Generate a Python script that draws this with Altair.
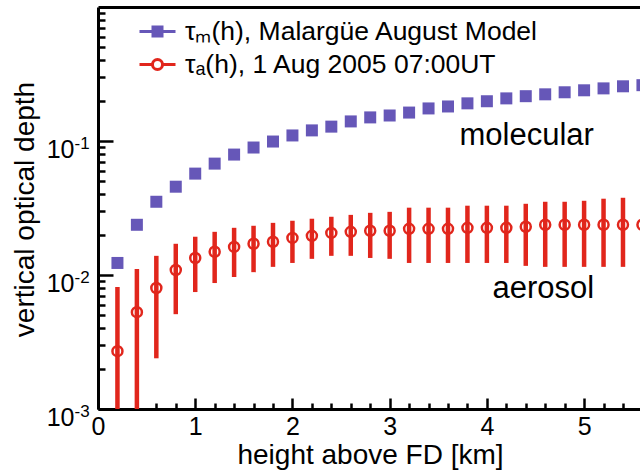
import altair as alt
import pandas as pd

# ---- data ----
heights = [0.2, 0.4, 0.6, 0.8, 1.0, 1.2, 1.4, 1.6, 1.8, 2.0, 2.2, 2.4, 2.6, 2.8,
           3.0, 3.2, 3.4, 3.6, 3.8, 4.0, 4.2, 4.4, 4.6, 4.8, 5.0, 5.2, 5.4, 5.6]
tau_m = [0.0123, 0.0237, 0.0352, 0.0456, 0.0571, 0.0678, 0.0792, 0.0894, 0.0991, 0.110,
         0.120, 0.128, 0.140, 0.150, 0.155, 0.163, 0.175, 0.181, 0.191, 0.198,
         0.208, 0.216, 0.223, 0.231, 0.239, 0.247, 0.256, 0.261]
tau_a = [0.00270, 0.00528, 0.0080, 0.0109, 0.0134, 0.0149, 0.0162, 0.0171, 0.0177, 0.0189,
         0.0196, 0.0206, 0.0210, 0.0214, 0.0214, 0.0221, 0.0221, 0.0221, 0.0225, 0.0225,
         0.0225, 0.0229, 0.0237, 0.0237, 0.0237, 0.0237, 0.0237, 0.0237]
tau_a_hi = [0.00813, 0.0111, 0.0139, 0.0171, 0.0193, 0.0210, 0.0225, 0.0233, 0.0245, 0.0254,
            0.0263, 0.0272, 0.0281, 0.0291, 0.0296, 0.0318, 0.0318, 0.0318, 0.0329, 0.0329,
            0.0329, 0.0340, 0.0352, 0.0352, 0.0358, 0.0371, 0.0377, 0.0384]
tau_a_lo = [0.0005, 0.0005, 0.00239, 0.0051, 0.00746, 0.00871, 0.00966, 0.0105, 0.0115, 0.0123,
            0.0132, 0.0139, 0.0139, 0.0134, 0.0132, 0.0123, 0.0123, 0.0123, 0.0123, 0.0123,
            0.0123, 0.0117, 0.0115, 0.0115, 0.0115, 0.0115, 0.0115, 0.0115]

series_names = ["τₘ(h), Malargüe August Model", "τₐ(h), 1 Aug 2005 07:00UT"]
annotation_labels = ["molecular", "aerosol"]
annotation_x = [4.41, 4.58]
annotation_y = [0.0941, 0.00673]

x_major = [0, 1, 2, 3, 4, 5]
x_minor = [0.2, 0.4, 0.6, 0.8, 1.2, 1.4, 1.6, 1.8, 2.2, 2.4, 2.6, 2.8, 3.2, 3.4, 3.6, 3.8,
           4.2, 4.4, 4.6, 4.8, 5.2, 5.4]
y_decades = [0.001, 0.01, 0.1]
y_minor = [0.002, 0.003, 0.004, 0.005, 0.006, 0.007, 0.008, 0.009,
           0.02, 0.03, 0.04, 0.05, 0.06, 0.07, 0.08, 0.09,
           0.2, 0.3, 0.4, 0.5, 0.6, 0.7, 0.8, 0.9]

# ---- styling ----
FONT = "Liberation Sans"
PURPLE = "#6657b8"
RED = "#e1261c"
W, H = 542, 402

df = pd.DataFrame({"h": heights, "tm": tau_m, "ta": tau_a, "lo": tau_a_lo, "hi": tau_a_hi})
ann = pd.DataFrame({"label": annotation_labels, "x": annotation_x, "y": annotation_y})
leg = pd.DataFrame({"series": series_names})

xscale = alt.Scale(domain=[0, 5.575], nice=False, zero=False)
yscale = alt.Scale(type="log", domain=[0.001, 1], nice=False)

# x axes
ax_x_labels = alt.Axis(orient="bottom", values=x_major, ticks=False, tickSize=0, grid=False,
                       labelFont=FONT, labelFontSize=25, labelColor="black", labelPadding=5,
                       labelFlush=False, labelOverlap=False,
                       domainColor="black", domainWidth=3,
                       title="height above FD [km]", titleFont=FONT, titleFontSize=28,
                       titleFontWeight="normal", titleColor="black", titleX=272, titleY=54,
                       titleBaseline="alphabetic", titleAlign="center")
ax_x_major = alt.Axis(orient="top", offset=-H, values=x_major, labels=False, domain=False,
                      grid=False, tickSize=11, tickWidth=2.5, tickColor="black", title=None)
ax_x_minor = alt.Axis(orient="top", offset=-H, values=x_minor, labels=False, domain=False,
                      grid=False, tickSize=6, tickWidth=2.5, tickColor="black", title=None)
ax_x_top = alt.Axis(orient="top", labels=False, ticks=False, grid=False,
                    domainColor="black", domainWidth=3, title=None)

# y axes
ax_y_labels = alt.Axis(orient="left", values=y_decades, ticks=False, tickSize=0, grid=False,
                       labelExpr="'10'", labelFont=FONT, labelFontSize=25, labelColor="black",
                       labelPadding=24, labelOffset=8, labelFlush=False, labelOverlap=False,
                       domainColor="black", domainWidth=3,
                       title="vertical optical depth", titleFont=FONT, titleFontSize=28,
                       titleFontWeight="normal", titleColor="black", titleX=-65, titleY=202,
                       titleBaseline="alphabetic", titleAlign="center", titleAngle=270)
ax_y_exp = alt.Axis(orient="left", values=y_decades, ticks=False, tickSize=0, grid=False,
                    domain=False,
                    labelExpr="'-' + round(-log(datum.value) / LN10)",
                    labelFont=FONT, labelFontSize=17, labelColor="black", labelAlign="left",
                    labelPadding=24, labelOffset=2, labelFlush=False, labelOverlap=False,
                    title=None)
ax_y_major = alt.Axis(orient="right", offset=-W, values=y_decades, labels=False, domain=False,
                      grid=False, tickSize=15, tickWidth=2.5, tickColor="black", title=None)
ax_y_minor = alt.Axis(orient="right", offset=-W, values=y_minor, labels=False, domain=False,
                      grid=False, tickSize=7, tickWidth=2.5, tickColor="black", title=None)

base = alt.Chart(df)

bars = base.mark_rule(color=RED, strokeWidth=4.5, clip=True).encode(
    x=alt.X("h:Q", scale=xscale, axis=ax_x_labels),
    y=alt.Y("lo:Q", scale=yscale, axis=ax_y_labels),
    y2="hi:Q",
)

circles = base.mark_point(shape="circle", filled=False, color=RED, strokeWidth=2.5,
                          size=100, opacity=1, clip=True).encode(
    x=alt.X("h:Q", scale=xscale, axis=ax_x_major),
    y=alt.Y("ta:Q", scale=yscale, axis=ax_y_exp),
)

squares = base.mark_square(color=PURPLE, size=144, opacity=1, clip=True).encode(
    x=alt.X("h:Q", scale=xscale, axis=ax_x_minor),
    y=alt.Y("tm:Q", scale=yscale, axis=ax_y_major),
)

texts = alt.Chart(ann).mark_text(font=FONT, fontSize=31, color="black", align="center",
                                 baseline="alphabetic").encode(
    x=alt.X("x:Q", scale=xscale, axis=ax_x_top),
    y=alt.Y("y:Q", scale=yscale, axis=ax_y_minor),
    text="label:N",
)

path_m = "M-1,0H1M-0.25,-0.25H0.25V0.25H-0.25Z"
path_a = ("M-1,0H-0.28M0.28,0H1M0.28,0A0.28,0.28 0 1 1 -0.28,0"
          "A0.28,0.28 0 1 1 0.28,0Z")
legend_def = alt.Legend(orient="none", legendX=40, legendY=5, title=None, padding=0,
                        symbolSize=1296, symbolStrokeWidth=3, symbolOpacity=1,
                        labelFont=FONT, labelFontSize=26.5, labelColor="black", labelOffset=8,
                        labelLimit=0, rowPadding=-1)

legend_layer = alt.Chart(leg).transform_filter("false").mark_point(
    filled=True, strokeWidth=3, size=1296, opacity=1).encode(
    shape=alt.Shape("series:N", scale=alt.Scale(domain=series_names, range=[path_m, path_a]),
                    legend=legend_def),
    stroke=alt.Stroke("series:N", scale=alt.Scale(domain=series_names, range=[PURPLE, RED]),
                      legend=legend_def),
    fill=alt.Fill("series:N", scale=alt.Scale(domain=series_names, range=[PURPLE, "transparent"]),
                  legend=legend_def),
)

chart = alt.layer(bars, circles, squares, texts, legend_layer).resolve_axis(
    x="independent", y="independent"
).properties(
    width=W, height=H,
    autosize=alt.AutoSizeParams(type="none"),
    padding={"left": 98, "top": 7, "right": 0, "bottom": 62},
    background="white",
).configure_view(stroke=None)

chart.save("out.html", embed_options={"renderer": "svg", "actions": False})
